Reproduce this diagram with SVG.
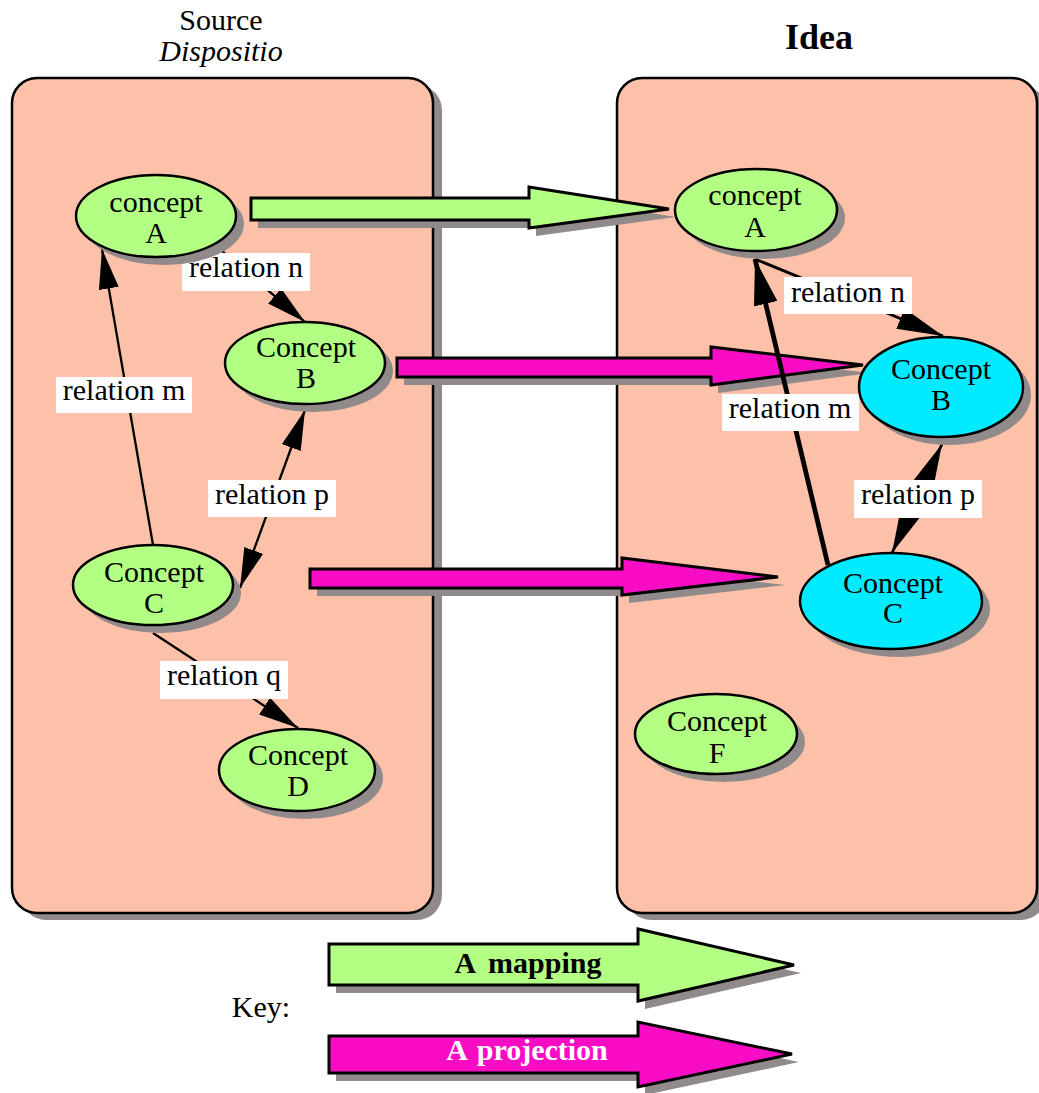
<svg xmlns="http://www.w3.org/2000/svg" width="1039" height="1093" viewBox="0 0 1039 1093">
<defs>
<style>
.t{font-family:"Liberation Serif","Times New Roman",serif;font-size:30px;fill:#000;text-anchor:middle}
.panel{fill:#FDC0A9;stroke:#000;stroke-width:2.5}
.shadow{fill:#918A8A}
.green{fill:#B2FF84;stroke:#000;stroke-width:2.5}
.cyan{fill:#00EBFF;stroke:#000;stroke-width:2.5}
.map{fill:#B2FF84;stroke:#000;stroke-width:3;stroke-linejoin:miter}
.proj{fill:#F80CC4;stroke:#000;stroke-width:3;stroke-linejoin:miter}
.lbl{fill:#fff}
.rel{fill:none;stroke:#000;stroke-width:2.3}
</style>
<marker id="h1" markerUnits="userSpaceOnUse" markerWidth="40" markerHeight="20" viewBox="0 0 40 20" refX="40" refY="10" orient="auto-start-reverse"><path d="M0,0 L40,10 L0,20 z" fill="#000"/></marker>
<marker id="h2" markerUnits="userSpaceOnUse" markerWidth="46" markerHeight="24" viewBox="0 0 46 24" refX="46" refY="12" orient="auto-start-reverse"><path d="M0,0 L46,12 L0,24 z" fill="#000"/></marker>
<marker id="h3" markerUnits="userSpaceOnUse" markerWidth="46" markerHeight="22" viewBox="0 0 46 22" refX="46" refY="11" orient="auto-start-reverse"><path d="M0,0 L46,11 L0,22 z" fill="#000"/></marker>
</defs>
<rect width="1039" height="1093" fill="#fff"/>

<g id="titles">
<text class="t" x="221" y="30">Source</text>
<text class="t" x="221" y="61" font-style="italic">Dispositio</text>
<text class="t" x="819" y="49" font-weight="bold" font-size="36" style="font-size:36px">Idea</text>
</g>

<g id="panel-source">
<rect class="shadow" x="21" y="85" width="421" height="835" rx="25"/>
<rect class="panel" x="12" y="78" width="421" height="835" rx="25"/>
</g>
<g id="panel-idea">
<rect class="shadow" x="626" y="85" width="420" height="835" rx="25"/>
<rect class="panel" x="617" y="78" width="420" height="835" rx="25"/>
</g>

<g id="block-arrows">
<polygon class="shadow" transform="translate(7,8)" points="251,198 529,198 529,187 669,209 529,228 529,220 251,220"/>
<polygon class="map" points="251,198 529,198 529,187 669,209 529,228 529,220 251,220"/>
<polygon class="shadow" transform="translate(7,8)" points="397,358 711,358 711,347 863,365 711,385 711,377 397,377"/>
<polygon class="proj" points="397,358 711,358 711,347 863,365 711,385 711,377 397,377"/>
<polygon class="shadow" transform="translate(7,8)" points="310,569 622,569 622,558 778,577 622,595 622,588 310,588"/>
<polygon class="proj" points="310,569 622,569 622,558 778,577 622,595 622,588 310,588"/>
</g>

<g id="connectors">
<line class="rel" x1="215" y1="245" x2="305" y2="322" marker-end="url(#h1)"/>
<line class="rel" x1="153" y1="545" x2="102" y2="249" marker-end="url(#h1)"/>
<line class="rel" x1="305" y1="410" x2="240" y2="588" marker-start="url(#h1)" marker-end="url(#h1)"/>
<line class="rel" x1="153" y1="633" x2="298" y2="728" marker-end="url(#h1)"/>
<line class="rel" x1="755" y1="259" x2="943" y2="336" stroke-width="2.8" style="stroke-width:2.8" marker-end="url(#h3)"/>
<line class="rel" x1="828" y1="565" x2="755" y2="259" style="stroke-width:4.8" marker-end="url(#h2)"/>
<line class="rel" x1="942" y1="444" x2="892" y2="553" style="stroke-width:2.8" marker-start="url(#h3)" marker-end="url(#h3)"/>
</g>

<g id="labels">
<rect class="lbl" x="182" y="253" width="128" height="38"/>
<text class="t" x="246" y="277">relation n</text>
<rect class="lbl" x="56" y="377" width="136" height="36"/>
<text class="t" x="124" y="400">relation m</text>
<rect class="lbl" x="208" y="480" width="128" height="37"/>
<text class="t" x="272" y="504">relation p</text>
<rect class="lbl" x="160" y="661" width="128" height="38"/>
<text class="t" x="224" y="685">relation q</text>
<rect class="lbl" x="784" y="277" width="128" height="37"/>
<text class="t" x="848" y="302">relation n</text>
<rect class="lbl" x="722" y="394" width="137" height="37"/>
<text class="t" x="790" y="418">relation m</text>
<rect class="lbl" x="854" y="480" width="128" height="38"/>
<text class="t" x="918" y="504">relation p</text>
</g>

<g id="src-concept-A">
<ellipse class="shadow" cx="164" cy="224" rx="80" ry="41"/>
<ellipse class="green" cx="156" cy="216" rx="80" ry="41"/>
<text class="t" x="156" y="212">concept</text>
<text class="t" x="156" y="243">A</text>
</g>
<g id="src-concept-B">
<ellipse class="shadow" cx="313" cy="371" rx="80" ry="41"/>
<ellipse class="green" cx="305" cy="363" rx="80" ry="41"/>
<text class="t" x="306" y="357">Concept</text>
<text class="t" x="306" y="388">B</text>
</g>
<g id="src-concept-C">
<ellipse class="shadow" cx="161" cy="593" rx="80" ry="40"/>
<ellipse class="green" cx="153" cy="585" rx="80" ry="40"/>
<text class="t" x="154" y="582">Concept</text>
<text class="t" x="154" y="613">C</text>
</g>
<g id="src-concept-D">
<ellipse class="shadow" cx="305" cy="778" rx="78" ry="41"/>
<ellipse class="green" cx="297" cy="770" rx="78" ry="41"/>
<text class="t" x="298" y="765">Concept</text>
<text class="t" x="298" y="796">D</text>
</g>

<g id="idea-concept-A">
<ellipse class="shadow" cx="764" cy="218" rx="81" ry="41"/>
<ellipse class="green" cx="756" cy="210" rx="81" ry="41"/>
<text class="t" x="755" y="205">concept</text>
<text class="t" x="755" y="237">A</text>
</g>
<g id="idea-concept-B">
<ellipse class="shadow" cx="949" cy="395" rx="82" ry="50"/>
<ellipse class="cyan" cx="941" cy="387" rx="82" ry="50"/>
<text class="t" x="941" y="379">Concept</text>
<text class="t" x="941" y="410">B</text>
</g>
<g id="idea-concept-C">
<ellipse class="shadow" cx="899" cy="609" rx="91" ry="48"/>
<ellipse class="cyan" cx="891" cy="601" rx="91" ry="48"/>
<text class="t" x="893" y="593">Concept</text>
<text class="t" x="893" y="623">C</text>
</g>
<g id="idea-concept-F">
<ellipse class="shadow" cx="724" cy="742" rx="81" ry="40"/>
<ellipse class="green" cx="716" cy="734" rx="81" ry="40"/>
<text class="t" x="717" y="731">Concept</text>
<text class="t" x="717" y="763">F</text>
</g>

<g id="key">
<text class="t" x="261" y="1017">Key:</text>
<polygon class="shadow" transform="translate(7,8)" points="329,944 638,944 638,929 794,965 638,1001 638,985 329,985"/>
<polygon class="map" points="329,944 638,944 638,929 794,965 638,1001 638,985 329,985"/>
<text class="t" x="528" y="973" font-weight="bold" word-spacing="6">A mapping</text>
<polygon class="shadow" transform="translate(7,8)" points="329,1036 638,1036 638,1022 792,1054 638,1087 638,1073 329,1073"/>
<polygon class="proj" points="329,1036 638,1036 638,1022 792,1054 638,1087 638,1073 329,1073"/>
<text class="t" x="527" y="1060" font-weight="bold" word-spacing="3" style="fill:#fff">A projection</text>
</g>
</svg>
